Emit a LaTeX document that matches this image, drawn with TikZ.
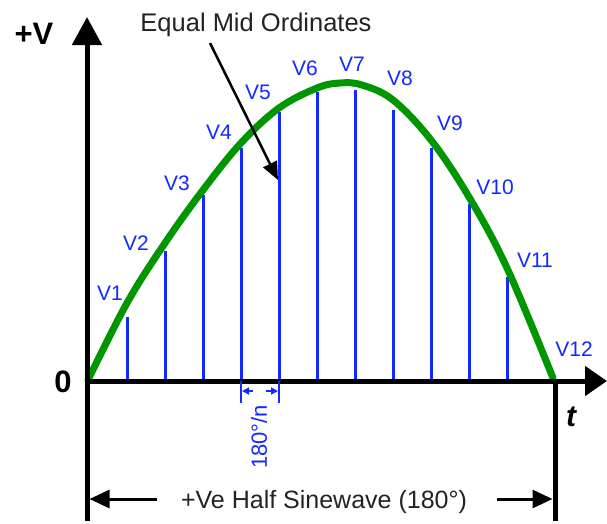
\documentclass[tikz,border=0pt]{standalone}
\usepackage{fontspec}
\setmainfont{Liberation Sans}
\usetikzlibrary{arrows.meta}
\definecolor{vblue}{RGB}{20,40,255}
\definecolor{cgreen}{RGB}{0,150,0}
\definecolor{tgrey}{RGB}{35,35,35}
\begin{document}
\begin{tikzpicture}[x=1pt,y=-1pt,
  axisline/.style={line width=5pt,black},
  ordline/.style={vblue,line width=3pt},
  curveline/.style={cgreen,line width=7pt,line cap=round},
  vlbl/.style={text=vblue,font=\fontsize{21}{24}\selectfont,inner sep=0pt},
  boldlbl/.style={font=\fontsize{31}{34}\selectfont\bfseries,inner sep=0pt},
  dimarrow/.style={line width=3pt,-{Triangle[length=20pt,width=18pt]}},
  notearrow/.style={line width=2.5pt,-{Triangle[length=18pt,width=15pt]}},
  smallarrow/.style={vblue,line width=1.5pt,-{Triangle[length=7pt,width=7pt]}},
  tick/.style={vblue,line width=2pt}]
\useasboundingbox[fill=white] (0,0) rectangle (607,523);

% key coordinates
\coordinate (O) at (87,381);
\coordinate (ytop) at (87,17);
\coordinate (ybot) at (87,521);
\coordinate (xl) at (84.5,381);
\coordinate (xend) at (607,381);
\coordinate (E) at (555,378.5);
\coordinate (ebot) at (555,521);

% ordinates
\foreach \i/\x/\y in {1/127/317, 2/165/251, 3/203/195, 4/241/148, 5/279/112, 6/317/92,
                      7/355/90, 8/393/110, 9/431/148, 10/469/204, 11/507/277} {
  \coordinate (b\i) at (\x,381);
  \coordinate (t\i) at (\x,\y);
  \draw[ordline] (b\i) -- (t\i);
}

% half sine wave
\draw[curveline] plot[smooth,tension=0.6] coordinates {
  (88,380) (127,303) (165,243) (203,190) (241,143) (279,108) (317,88)
  (340,83) (362,85) (393,100) (431,140) (469,197) (507,268) (553,378)};

% axes
\draw[axisline,-{Triangle[length=28pt,width=29pt]}] (ybot) -- (ytop);
\draw[axisline,-{Triangle[length=22pt,width=29pt]}] (xl) -- (xend);
\draw[axisline] (E) -- (ebot);

% V labels
\node[vlbl] (v1) at (110,293) {V1};
\node[vlbl] (v2) at (136,243) {V2};
\node[vlbl] (v3) at (177,183) {V3};
\node[vlbl] (v4) at (219,132) {V4};
\node[vlbl] (v5) at (258,92) {V5};
\node[vlbl] (v6) at (305,68) {V6};
\node[vlbl] (v7) at (352,64) {V7};
\node[vlbl] (v8) at (400,78) {V8};
\node[vlbl] (v9) at (450,123) {V9};
\node[vlbl] (v10) at (495,187) {V10};
\node[vlbl] (v11) at (535,260) {V11};
\node[vlbl] (v12) at (574,349) {V12};

% axis labels
\node[boldlbl] (plusv) at (34,34) {+V};
\node[boldlbl] (zero) at (63,382) {0};
\node[boldlbl,font=\fontsize{30}{33}\selectfont\bfseries\itshape] (tlab) at (571,417) {t};

% annotation
\node[text=tgrey,font=\fontsize{25.5}{28}\selectfont,inner sep=0pt,anchor=base] (note) at (256,31) {Equal Mid Ordinates};
\coordinate (a1) at (210,43);
\coordinate (a2) at (278,180);
\draw[notearrow] (a1) -- (a2);

% 180/n dimension
\coordinate (d1t) at (241,381);
\coordinate (d1b) at (241,403);
\coordinate (d2t) at (279,381);
\coordinate (d2b) at (279,403);
\draw[tick] (d1t) -- (d1b);
\draw[tick] (d2t) -- (d2b);
\coordinate (s1) at (253,391);
\coordinate (s1e) at (242,391);
\coordinate (s2) at (266,391);
\coordinate (s2e) at (278,391);
\draw[smallarrow] (s1) -- (s1e);
\draw[smallarrow] (s2) -- (s2e);
\node[text=vblue,font=\fontsize{22}{24}\selectfont,inner sep=0pt,rotate=90] (deg) at (259,437) {180°/n};

% bottom dimension
\node[text=tgrey,font=\fontsize{25}{28}\selectfont,inner sep=0pt,anchor=base] (half) at (324,508) {+Ve Half Sinewave (180°)};
\coordinate (la) at (157,499);
\coordinate (lb) at (89.5,499);
\coordinate (ra) at (497,499);
\coordinate (rb) at (552.5,499);
\draw[dimarrow] (la) -- (lb);
\draw[dimarrow] (ra) -- (rb);
\end{tikzpicture}
\end{document}
